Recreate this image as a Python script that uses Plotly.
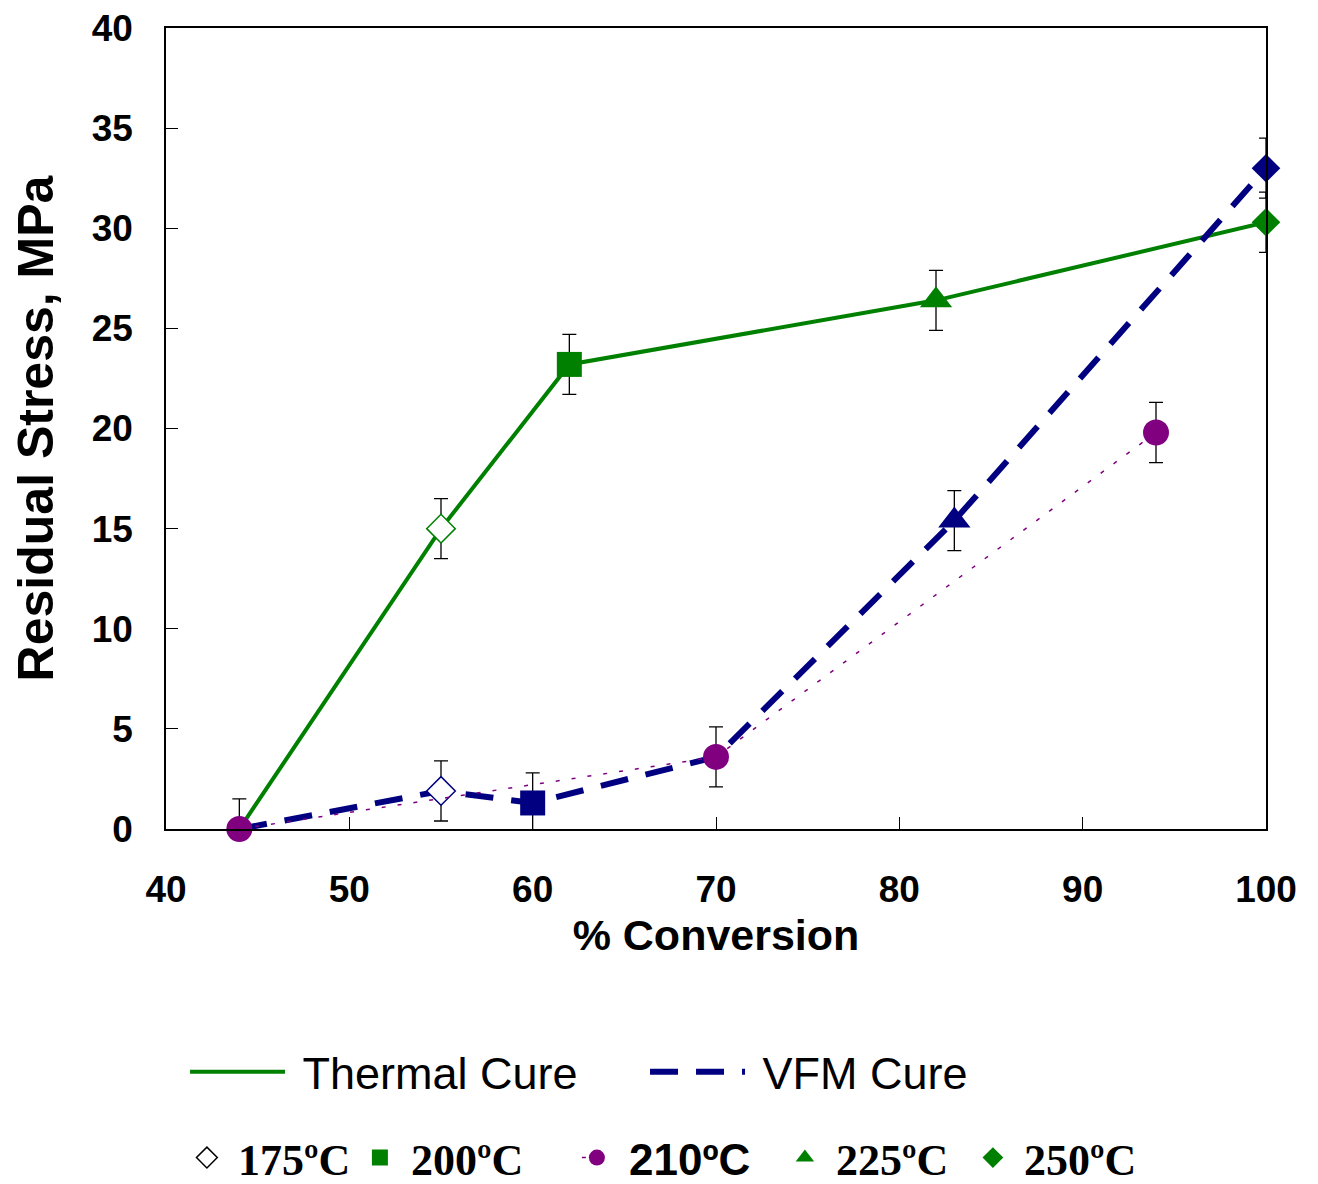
import plotly.graph_objects as go

# Residual stress vs. degree of conversion for thermally cured and VFM-cured samples
conversion_thermal = [44, 55, 62, 82, 100]
stress_thermal = [0.0, 15.0, 23.2, 26.4, 30.3]

conversion_vfm = [44, 55, 60, 70, 83, 100]
stress_vfm = [0.0, 1.9, 1.3, 3.6, 15.4, 33.0]

conversion_210 = [44, 70, 94]
stress_210 = [0.0, 3.6, 19.8]

stress_error = 1.5

x_ticks = [40, 50, 60, 70, 80, 90, 100]
y_ticks = [0, 5, 10, 15, 20, 25, 30, 35, 40]

GREEN = "#008000"
NAVY = "#000080"
PURPLE = "#800080"
SANS = "Liberation Sans, Arial, sans-serif"
SERIF = "Liberation Serif, Times New Roman, serif"

fig = go.Figure()


def err(n):
    return dict(type="data", array=[stress_error] * n, visible=True,
                color="black", thickness=1.3, width=7)


# cure curves
fig.add_trace(go.Scatter(
    x=conversion_thermal, y=stress_thermal, mode="lines", name="\u00a0Thermal Cure",
    line=dict(color=GREEN, width=4), legend="legend", legendwidth=350,
    cliponaxis=False, hoverinfo="skip"))
fig.add_trace(go.Scatter(
    x=conversion_vfm, y=stress_vfm, mode="lines", name="\u00a0VFM Cure",
    line=dict(color=NAVY, width=6, dash="28px,18px"), legend="legend", legendwidth=250,
    cliponaxis=False, hoverinfo="skip"))

# cure-temperature markers: first point on the thermal curve, second on the VFM curve
marker_sets = [
    ("175ºC", [conversion_thermal[1], conversion_vfm[1]], [stress_thermal[1], stress_vfm[1]],
     "diamond", 22, ["white", "white"], [GREEN, NAVY], 1.5),
    ("200ºC", [conversion_thermal[2], conversion_vfm[2]], [stress_thermal[2], stress_vfm[2]],
     "square", 25, [GREEN, NAVY], [GREEN, NAVY], 0),
    ("225ºC", [conversion_thermal[3], conversion_vfm[4]], [stress_thermal[3], stress_vfm[4]],
     "triangle-up", 28, [GREEN, NAVY], [GREEN, NAVY], 0),
    ("250ºC", [conversion_thermal[4], conversion_vfm[5]], [stress_thermal[4], stress_vfm[5]],
     "diamond", 22, [GREEN, NAVY], [GREEN, NAVY], 0),
]
for name, xs, ys, sym, size, fill, edge, lw in marker_sets:
    fig.add_trace(go.Scatter(
        x=xs, y=ys, mode="markers", showlegend=False, cliponaxis=False,
        marker=dict(symbol=sym, size=size, color=fill, line=dict(color=edge, width=lw)),
        error_y=err(len(xs))))

# 210ºC series with its own dotted connector
fig.add_trace(go.Scatter(
    x=conversion_210, y=stress_210, mode="lines+markers",
    name=f"<span style=\"font-family:{SANS}\">\u00a0210ºC</span>",
    line=dict(color=PURPLE, width=1.5, dash="4px,12px"),
    marker=dict(symbol="circle", size=26, color=PURPLE),
    error_y=err(len(conversion_210)), cliponaxis=False,
    legend="legend2", legendwidth=163, legendrank=2))

# legend keys for the cure temperatures
legend_keys = [
    ("175ºC", "diamond", "white", "black", 1.5, 128, 0),
    ("200ºC", "square", GREEN, GREEN, 0, 172, 1),
    ("225ºC", "triangle-up", GREEN, GREEN, 0, 143, 3),
    ("250ºC", "diamond", GREEN, GREEN, 0, 130, 4),
]
for name, sym, fill, edge, lw, lwid, rank in legend_keys:
    fig.add_trace(go.Scatter(
        x=[None], y=[None], mode="markers", name="\u00a0" + name,
        marker=dict(symbol=sym, size=16, color=fill, line=dict(color=edge, width=lw)),
        legend="legend2", legendwidth=lwid, legendrank=rank))

axis_common = dict(
    showgrid=False, zeroline=False, showline=True, linecolor="black", linewidth=1.5,
    mirror=True, ticks="inside", ticklen=12, tickwidth=1, tickcolor="black",
    automargin=False,
    tickfont=dict(family=SANS, size=37, color="black", weight="bold"),
)

fig.update_layout(
    width=1318, height=1184,
    margin=dict(l=166, r=52, t=28, b=355, autoexpand=False),
    paper_bgcolor="white", plot_bgcolor="white",
    xaxis=dict(range=[40, 100], tickvals=x_ticks, ticklabelstandoff=27,
               title=dict(text="% Conversion", standoff=11,
                          font=dict(family=SANS, size=43, color="black", weight="bold")),
               **axis_common),
    yaxis=dict(range=[0, 40], tickvals=y_ticks, ticklabelstandoff=24,
               title=dict(text="Residual Stress, MPa", standoff=22,
                          font=dict(family=SANS, size=50, color="black", weight="bold")),
               **axis_common),
    legend=dict(orientation="h", x=0.0173, xanchor="left", y=-0.3034, yanchor="middle",
                itemwidth=95, font=dict(family=SANS, size=45, color="black"),
                bgcolor="rgba(0,0,0,0)", traceorder="normal"),
    legend2=dict(orientation="h", x=0.019, xanchor="left", y=-0.4107, yanchor="middle",
                 itemwidth=30, font=dict(family=SERIF, size=44, color="black", weight="bold"),
                 bgcolor="rgba(0,0,0,0)", traceorder="normal"),
)

fig.write_html("out.html")
